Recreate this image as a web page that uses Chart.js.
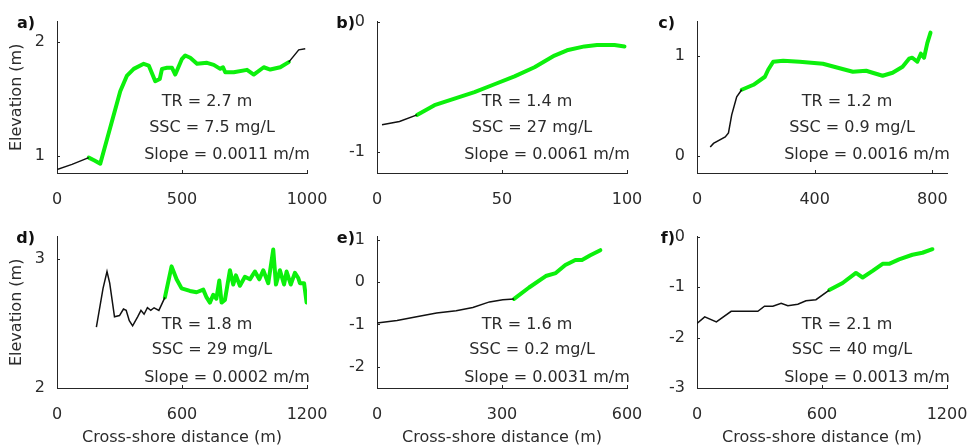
<!DOCTYPE html>
<html>
<head>
<meta charset="utf-8">
<script src="https://cdn.jsdelivr.net/npm/chart.js@4.4.1/dist/chart.umd.min.js"></script>
<style>
  body { margin: 0; background: #fff; width: 975px; height: 447px; position: relative; overflow: hidden; }
  canvas { position: absolute; }
</style>
</head>
<body>
<script>
'use strict'

// Panel letters and site stats
const panelLabels = ['a)', 'b)', 'c)', 'd)', 'e)', 'f)']
const tidalRange = ['2.7', '1.4', '1.2', '1.8', '1.6', '2.1']
const sscValues = ['7.5', '27', '0.9', '29', '0.2', '40']
const slopeValues = ['0.0011', '0.0061', '0.0016', '0.0002', '0.0031', '0.0013']

// Axis limits and tick values
const xMax = [1000, 100, 850, 1200, 600, 1200]
const xTicks = [[0, 500, 1000], [0, 50, 100], [0, 400, 800], [0, 600, 1200], [0, 300, 600], [0, 600, 1200]]
const yMin = [0.85, -1.16, -0.17, 2, -2.5, -3]
const yMax = [2.18, 0, 1.34, 3.17, 1.07, 0]
const yTicks = [[1, 2], [-1, 0], [0, 1], [2, 3], [-2, -1, 0, 1], [-3, -2, -1, 0]]

// Elevation profiles [distance (m), elevation (m)]
// black = outside the vegetated platform, green = marsh platform
const aBlack = [[0, 0.88], [60, 0.926], [127, 0.985]]
const aGreen = [[127, 0.985], [150, 0.96], [173, 0.932], [213, 1.25], [253, 1.568], [280, 1.706], [307, 1.765],
  [347, 1.809], [367, 1.794], [393, 1.656], [411, 1.676], [420, 1.765], [440, 1.774], [460, 1.774], [473, 1.715],
  [480, 1.75], [500, 1.853], [513, 1.882], [533, 1.862], [560, 1.809], [600, 1.818], [627, 1.8], [653, 1.765],
  [664, 1.779], [673, 1.735], [707, 1.735], [760, 1.756], [787, 1.715], [827, 1.779], [853, 1.759], [893, 1.779],
  [927, 1.824]]
const aBlackEnd = [[927, 1.824], [967, 1.932], [993, 1.941]]

const bBlack = [[2, -0.79], [9, -0.765], [16, -0.715]]
const bGreen = [[16, -0.715], [23, -0.64], [31, -0.59], [39, -0.54], [47, -0.48], [55, -0.42], [63, -0.35],
  [71, -0.26], [76, -0.22], [83, -0.19], [88, -0.18], [95, -0.18], [99, -0.19]]

const cBlack = [[45, 0.09], [56, 0.125], [96, 0.19], [107, 0.23], [118, 0.41], [135, 0.59], [152, 0.66]]
const cGreen = [[152, 0.66], [192, 0.71], [231, 0.79], [242, 0.86], [259, 0.94], [293, 0.95], [349, 0.94],
  [428, 0.92], [485, 0.875], [530, 0.84], [575, 0.85], [597, 0.83], [631, 0.8], [665, 0.83], [699, 0.89],
  [721, 0.97], [732, 0.98], [749, 0.94], [761, 1.02], [772, 0.98], [783, 1.125], [794, 1.23]]

const dBlack = [[189, 2.47], [221, 2.77], [240, 2.9], [253, 2.81], [276, 2.55], [300, 2.56], [319, 2.61],
  [332, 2.6], [347, 2.52], [363, 2.48], [387, 2.55], [403, 2.6], [418, 2.57], [434, 2.62], [450, 2.6],
  [466, 2.62], [489, 2.6], [518, 2.7]]
const dGreen = [[518, 2.7], [550, 2.94], [574, 2.84], [598, 2.77], [638, 2.75], [670, 2.74], [702, 2.76],
  [718, 2.7], [734, 2.66], [750, 2.72], [765, 2.69], [779, 2.83], [790, 2.66], [806, 2.68], [830, 2.91],
  [846, 2.8], [859, 2.87], [878, 2.79], [902, 2.86], [926, 2.84], [950, 2.9], [971, 2.84], [990, 2.91],
  [1014, 2.81], [1038, 3.07], [1051, 2.8], [1070, 2.91], [1090, 2.8], [1102, 2.9], [1122, 2.8], [1142, 2.89],
  [1158, 2.85], [1166, 2.81], [1186, 2.81], [1198, 2.66]]

const eBlack = [[0, -0.97], [48, -0.91], [95, -0.82], [143, -0.73], [190, -0.68], [230, -0.6], [270, -0.47],
  [302, -0.42], [329, -0.4]]
const eGreen = [[329, -0.4], [365, -0.13], [405, 0.14], [429, 0.21], [452, 0.4], [476, 0.52], [492, 0.52],
  [512, 0.63], [536, 0.75]]

const fBlack = [[0, -1.72], [37, -1.59], [93, -1.69], [164, -1.48], [292, -1.48], [324, -1.38], [364, -1.38],
  [404, -1.32], [436, -1.37], [484, -1.34], [523, -1.27], [571, -1.25], [635, -1.06]]
const fGreen = [[635, -1.06], [699, -0.92], [763, -0.72], [795, -0.81], [843, -0.68], [891, -0.54],
  [922, -0.54], [970, -0.45], [1034, -0.36], [1082, -0.32], [1130, -0.25]]

const blackSegments = [[aBlack, aBlackEnd], [bBlack], [cBlack], [dBlack], [eBlack], [fBlack]]
const greenSegments = [aGreen, bGreen, cGreen, dGreen, eGreen, fGreen]

const FONT = '"DejaVu Sans", sans-serif'
const TEXT = '#2b2b2b'
const AXIS = '#262626'

// where the three stat lines sit inside the plot box (fractions)
const statX = [0.6, 0.62, 0.68]
const statYTop = [0.53, 0.7, 0.88]
const statYBottom = [0.58, 0.75, 0.93]

// Draws inward tick marks, panel letter and the stat text
const panelDecor = {
  id: 'panelDecor',
  afterDraw(chart, args, opts) {
    const {ctx, chartArea: {left, right, top, bottom}} = chart
    const w = right - left
    const h = bottom - top
    const xs = chart.scales.x
    const ys = chart.scales.y
    ctx.save()
    ctx.strokeStyle = AXIS
    ctx.lineWidth = 1
    xs.ticks.forEach((t) => {
      const px = Math.round(xs.getPixelForValue(t.value)) + 0.5
      ctx.beginPath(); ctx.moveTo(px, bottom); ctx.lineTo(px, bottom - 3); ctx.stroke()
    })
    ys.ticks.forEach((t) => {
      const py = Math.round(ys.getPixelForValue(t.value)) + 0.5
      ctx.beginPath(); ctx.moveTo(left, py); ctx.lineTo(left + 3, py); ctx.stroke()
    })
    ctx.fillStyle = '#111'
    ctx.font = 'bold 16px ' + FONT
    ctx.textAlign = 'right'
    ctx.textBaseline = 'middle'
    ctx.fillText(opts.letter, left - 22, top + 2)
    ctx.fillStyle = TEXT
    ctx.font = '16px ' + FONT
    ctx.textAlign = 'center'
    opts.lines.forEach((s, k) => {
      ctx.fillText(s, left + w * statX[k], top + h * opts.rowY[k])
    })
    ctx.restore()
  }
}

const toXY = (pts) => pts.map(p => ({x: p[0], y: p[1]}))

for (let i = 0; i < 6; i++) {
  const col = i % 3
  const row = Math.floor(i / 3)
  const width = [330, 330, 335][col]
  const height = row ? 232 : 210

  const canvas = document.createElement('canvas')
  canvas.width = width
  canvas.height = height
  canvas.style.left = (col * 320) + 'px'
  canvas.style.top = (row ? 215 : 0) + 'px'
  document.body.appendChild(canvas)

  const datasets = []
  blackSegments[i].forEach((seg) => {
    datasets.push({data: toXY(seg), borderColor: '#111', borderWidth: 1.5, pointRadius: 0, tension: 0})
  })
  datasets.push({data: toXY(greenSegments[i]), borderColor: '#0cf00c', borderWidth: 4, pointRadius: 0,
    tension: 0, borderJoinStyle: 'round', borderCapStyle: 'round'})

  new Chart(canvas, {
    type: 'line',
    data: {datasets},
    plugins: [panelDecor],
    options: {
      responsive: false,
      animation: false,
      events: [],
      layout: {padding: {top: 17, left: 0, right: width - 307, bottom: 0}},
      plugins: {
        legend: {display: false},
        tooltip: {enabled: false},
        panelDecor: {
          letter: panelLabels[i],
          lines: ['TR = ' + tidalRange[i] + ' m', 'SSC = ' + sscValues[i] + ' mg/L', 'Slope = ' + slopeValues[i] + ' m/m'],
          rowY: row ? statYBottom : statYTop
        }
      },
      scales: {
        x: {
          type: 'linear',
          min: 0,
          max: xMax[i],
          afterBuildTicks: (s) => { s.ticks = xTicks[i].map(v => ({value: v})) },
          afterFit: (s) => {
            s.height = row ? 59 : 37
            // keep the plot box fixed; end labels may hang into the margin
            s.paddingLeft = 0
            s.paddingRight = 0
          },
          grid: {display: false, drawTicks: false},
          border: {display: true, color: AXIS, width: 1},
          ticks: {font: {family: FONT, size: 16}, color: TEXT, padding: 17, maxRotation: 0, autoSkip: false,
            callback: (v) => String(v)},
          title: {display: row === 1, text: 'Cross-shore distance (m)', color: TEXT,
            font: {family: FONT, size: 16}, padding: {top: 4, bottom: 0}}
        },
        y: {
          type: 'linear',
          min: yMin[i],
          max: yMax[i],
          afterBuildTicks: (s) => { s.ticks = yTicks[i].map(v => ({value: v})) },
          afterFit: (s) => { s.width = 57 },
          grid: {display: false, drawTicks: false},
          border: {display: true, color: AXIS, width: 1},
          ticks: {font: {family: FONT, size: 16}, color: TEXT, padding: 12, callback: (v) => String(v)},
          title: {display: col === 0, text: 'Elevation (m)', color: TEXT,
            font: {family: FONT, size: 16}, padding: {top: 7, bottom: 4}}
        }
      }
    }
  })
}
</script>
</body>
</html>
